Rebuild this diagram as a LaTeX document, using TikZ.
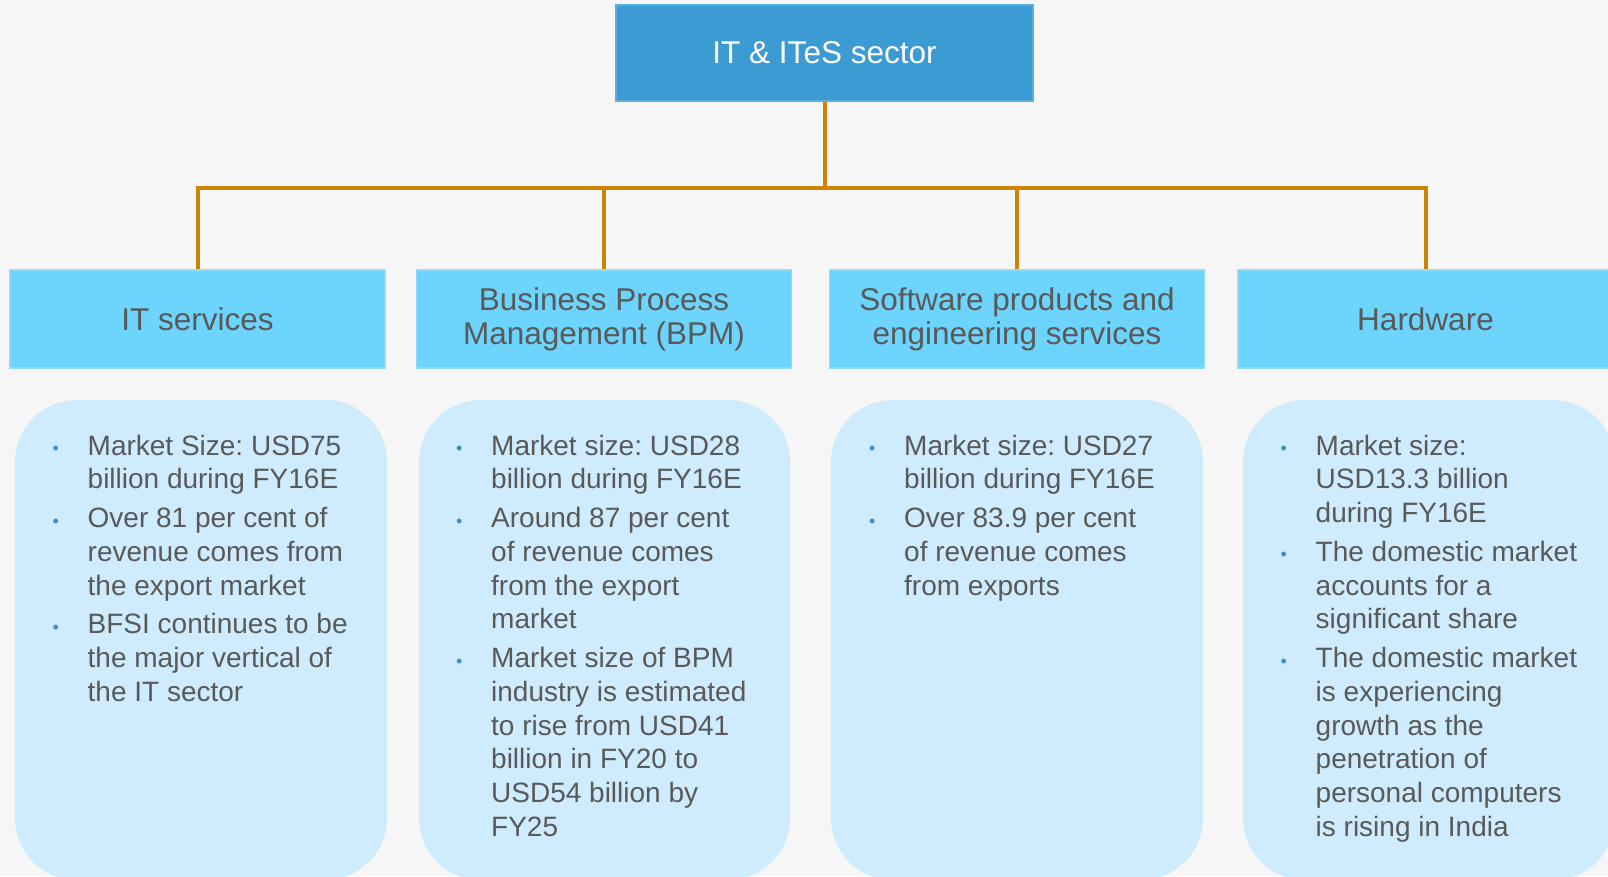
\documentclass[tikz,border=0pt]{standalone}
\usepackage{fontspec}
\setmainfont{Liberation Sans}
\frenchspacing
\definecolor{bgcol}{HTML}{F6F6F6}
\definecolor{topcol}{HTML}{3D9BD4}
\definecolor{topline}{HTML}{5CAEE0}
\definecolor{subcol}{HTML}{6DD4FD}
\definecolor{subline}{HTML}{8FDDFC}
\definecolor{panelcol}{HTML}{CEECFD}
\definecolor{linkcol}{HTML}{CC8400}
\definecolor{txtcol}{HTML}{595959}
\definecolor{dotcol}{HTML}{3A8FD0}
\newcommand{\bpoint}[1]{\par\hangindent=35pt\hangafter=1\noindent
  \makebox[35pt][l]{\raisebox{0.5pt}{\textcolor{dotcol}{\fontsize{18}{18}\selectfont\textbullet}}}#1\par\vspace{5.2pt}}
\newcommand{\blist}[1]{\parbox[t]{330pt}{\frenchspacing\fontsize{28}{33.7}\selectfont#1}}
\begin{document}
\begin{tikzpicture}[x=1pt,y=-1pt,
    headbox/.style={rectangle, fill=topcol, draw=topline, line width=1.5pt,
      minimum width=417pt, minimum height=96pt, text=white,
      font=\fontsize{31.5}{34}\selectfont},
    subbox/.style={rectangle, fill=subcol, draw=subline, line width=1.5pt,
      minimum width=375pt, minimum height=98pt, text=txtcol, align=center,
      font=\fontsize{31.5}{34}\selectfont},
    panel/.style={fill=panelcol, rounded corners=62pt},
    link/.style={draw=linkcol, line width=4pt},
    listtext/.style={anchor=base west, inner sep=0pt, text=txtcol}]
  \useasboundingbox (0,0) rectangle (1608,876);
  \clip (0,0) rectangle (1608,876);
  \fill[bgcol] (0,0) rectangle (1608,876);

  \fill[panel] (15,400) rectangle (387,880);
  \fill[panel] (419,400) rectangle (790,880);
  \fill[panel] (831,400) rectangle (1203,880);
  \fill[panel] (1243,400) rectangle (1615,880);

  \node[headbox] (top) at (824.5,53) {IT \& ITeS sector};
  \node[subbox] (it) at (197.5,319) {IT services};
  \node[subbox] (bpm) at (604,319) {Business Process\\Management (BPM)};
  \node[subbox] (sw) at (1017,319) {Software products and\\engineering services};
  \node[subbox] (hw) at (1425.5,319) {Hardware};

  \draw[link] (top.south) -- ++(0,86) coordinate (hub);
  \foreach \c in {it,bpm,sw,hw}
    \draw[link] (hub) -| (\c.north);

  \node[listtext] (itlist) at (52.5,455) {\blist{%
    \bpoint{Market Size: USD75\\billion during FY16E}
    \bpoint{Over 81 per cent of\\revenue comes from\\the export market}
    \bpoint{BFSI continues to be\\the major vertical of\\the IT sector}}};
  \node[listtext] (bpmlist) at (456,455) {\blist{%
    \bpoint{Market size: USD28\\billion during FY16E}
    \bpoint{Around 87 per cent\\of revenue comes\\from the export\\market}
    \bpoint{Market size of BPM\\industry is estimated\\to rise from USD41\\billion in FY20 to\\USD54 billion by\\FY25}}};
  \node[listtext] (swlist) at (869,455) {\blist{%
    \bpoint{Market size: USD27\\billion during FY16E}
    \bpoint{Over 83.9 per cent\\of revenue comes\\from exports}}};
  \node[listtext] (hwlist) at (1280.5,455) {\blist{%
    \bpoint{Market size:\\USD13.3 billion\\during FY16E}
    \bpoint{The domestic market\\accounts for a\\significant share}
    \bpoint{The domestic market\\is experiencing\\growth as the\\penetration of\\personal computers\\is rising in India}}};
\end{tikzpicture}
\end{document}
